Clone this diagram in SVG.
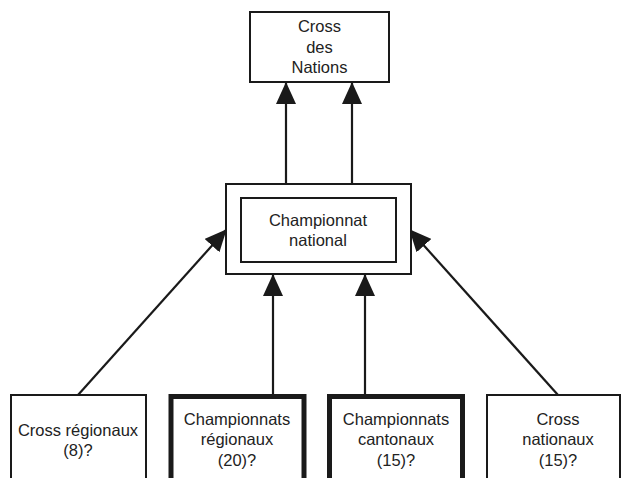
<svg xmlns="http://www.w3.org/2000/svg" width="622" height="478" viewBox="0 0 622 478">
<style>
.box{fill:#fff;stroke:#1a1a1a;stroke-width:2}
.thick{fill:#fff;stroke:#1a1a1a;stroke-width:5}
.t{font-family:"Liberation Sans",Arial,sans-serif;font-size:16.5px;fill:#222;text-anchor:middle}
.c{stroke:#1a1a1a;stroke-width:2.2;fill:none}
</style>
<defs>
<marker id="ah" viewBox="0 0 22 20" refX="21" refY="10" markerWidth="22" markerHeight="20" markerUnits="userSpaceOnUse" orient="auto">
<path d="M0,0 L22,10 L0,20 Z" fill="#1a1a1a"/>
</marker>
</defs>
<rect width="622" height="478" fill="#fff"/>
<g id="connectors">
<line class="c" x1="286" y1="184" x2="286" y2="83" marker-end="url(#ah)"/>
<line class="c" x1="352" y1="184" x2="352" y2="83" marker-end="url(#ah)"/>
<line class="c" x1="273" y1="395" x2="273" y2="275" marker-end="url(#ah)"/>
<line class="c" x1="365" y1="395" x2="365" y2="275" marker-end="url(#ah)"/>
<line class="c" x1="78" y1="395" x2="226" y2="230" marker-end="url(#ah)"/>
<line class="c" x1="558" y1="395" x2="410" y2="230" marker-end="url(#ah)"/>
</g>
<g id="cross-des-nations">
<rect class="box" x="250" y="12" width="139" height="70"/>
<text class="t" x="319.5" y="32">Cross</text>
<text class="t" x="319.5" y="53">des</text>
<text class="t" x="319.5" y="73">Nations</text>
</g>
<g id="championnat-national">
<rect class="box" x="226" y="184" width="185" height="90"/>
<rect class="box" x="241" y="198" width="155" height="64"/>
<text class="t" x="318" y="226">Championnat</text>
<text class="t" x="318" y="246">national</text>
</g>
<g id="cross-regionaux">
<rect class="box" x="11" y="395" width="135" height="100"/>
<text class="t" x="78" y="436">Cross régionaux</text>
<text class="t" x="78" y="456">(8)?</text>
</g>
<g id="championnats-regionaux">
<rect class="thick" x="171" y="396.5" width="133" height="100"/>
<text class="t" x="237" y="425">Championnats</text>
<text class="t" x="237" y="445">régionaux</text>
<text class="t" x="237" y="466">(20)?</text>
</g>
<g id="championnats-cantonaux">
<rect class="thick" x="329.5" y="396.5" width="133" height="100"/>
<text class="t" x="396" y="425">Championnats</text>
<text class="t" x="396" y="445">cantonaux</text>
<text class="t" x="396" y="466">(15)?</text>
</g>
<g id="cross-nationaux">
<rect class="box" x="487" y="395" width="133" height="100"/>
<text class="t" x="558" y="425">Cross</text>
<text class="t" x="558" y="445">nationaux</text>
<text class="t" x="558" y="466">(15)?</text>
</g>
</svg>
